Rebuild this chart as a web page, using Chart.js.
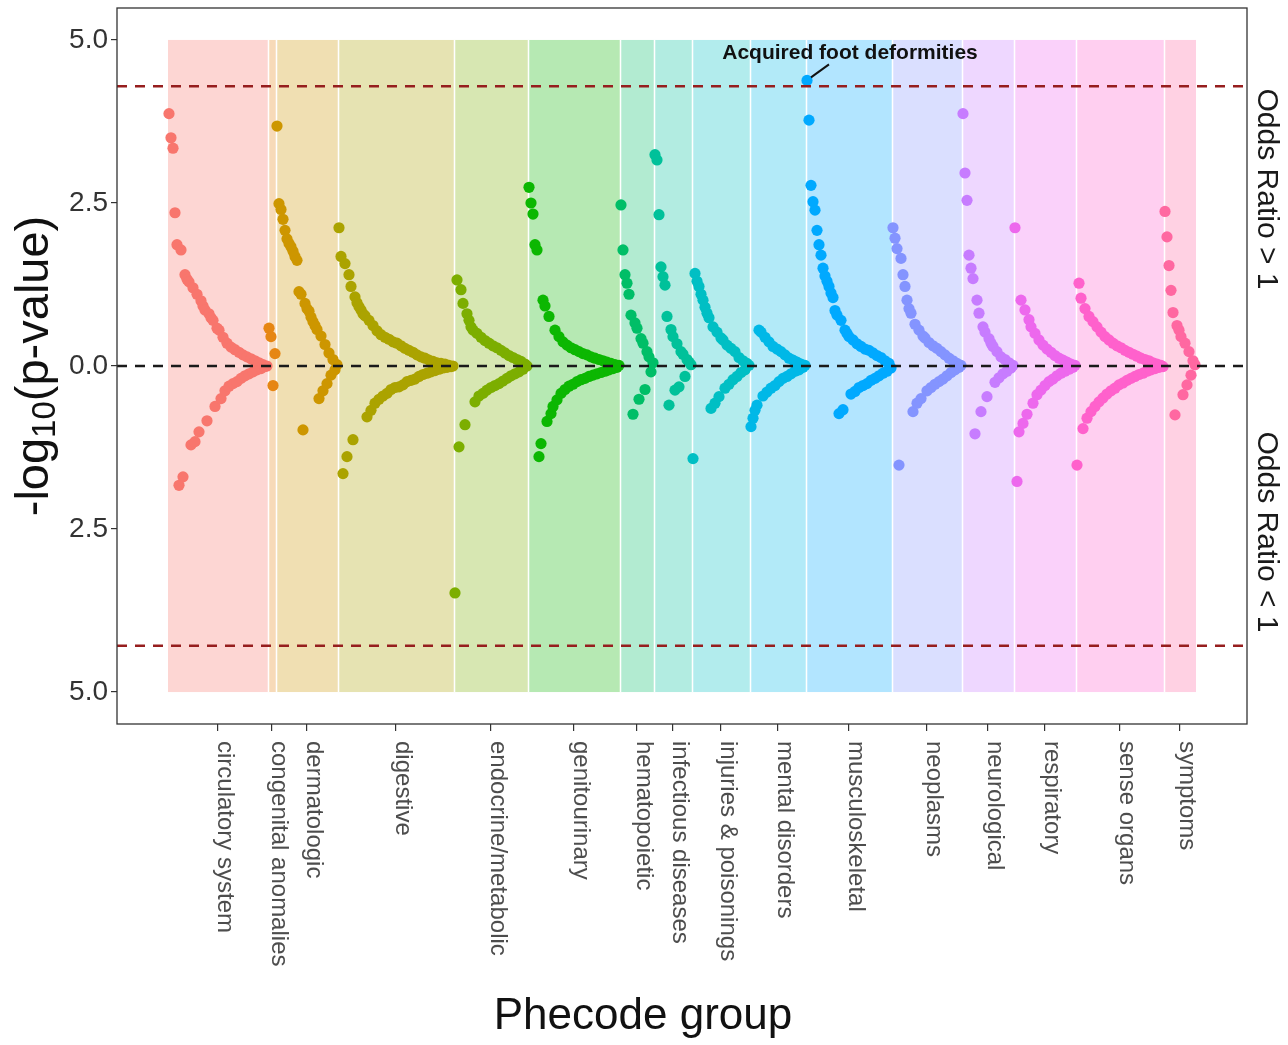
<!DOCTYPE html>
<html>
<head>
<meta charset="utf-8">
<title>PheWAS - Phecode groups</title>
<script src="https://cdn.jsdelivr.net/npm/chart.js@4.4.1/dist/chart.umd.min.js"></script>
<style>
  html, body { margin: 0; padding: 0; background: #fff; }
  #wrap { width: 1288px; height: 1045px; position: relative; }
</style>
</head>
<body>
<div id="wrap"><canvas id="chart"></canvas></div>
<script>
const FONT = "'Liberation Sans', Arial, Helvetica, sans-serif";

// Phecode groups (x-axis categories) and ggplot hue colours
const groupNames = [
  'circulatory system', 'congenital anomalies', 'dermatologic', 'digestive',
  'endocrine/metabolic', 'genitourinary', 'hematopoietic', 'infectious diseases',
  'injuries & poisonings', 'mental disorders', 'musculoskeletal', 'neoplasms',
  'neurological', 'respiratory', 'sense organs', 'symptoms',
];
const groupColors = [
  '#F8766D', '#E68613', '#CD9600', '#ABA300', '#7CAE00', '#0CB702', '#00BE67', '#00C19A',
  '#00BFC4', '#00B8E7', '#00A9FF', '#8494FF', '#C77CFF', '#ED68ED', '#FF61CC', '#FF68A1',
];

// signed -log10(p) per phecode, in plotting order (+ : OR > 1, - : OR < 1)
const circulatory = [3.87, 3.50, 3.34, 2.35, 1.86, -1.83, 1.78, -1.70, 1.40, 1.33, 1.29, -1.21, 1.20, -1.16, 1.10, -1.01, 1.00, 0.92, 0.86, -0.84, 0.80, 0.74, 0.70, -0.62, 0.58, 0.55, -0.50, 0.44, -0.38, 0.35, -0.31, 0.29, -0.27, 0.25, -0.24, 0.21, -0.19, 0.17, -0.15, 0.14, -0.12, 0.11, -0.09, 0.08, -0.06, 0.05, -0.04, 0.02, -0.01, 0.00];
const congenital = [0.58, 0.45, -0.30, 0.19];
const dermatologic = [3.68, 2.49, 2.40, 2.25, 2.08, 1.95, 1.88, 1.83, 1.76, 1.68, 1.62, 1.14, 1.10, -0.98, 0.96, 0.88, 0.84, 0.75, 0.68, 0.62, 0.56, -0.50, 0.46, -0.38, 0.33, -0.27, 0.20, -0.14, 0.10, -0.06, 0.02];
const digestive = [2.12, 1.68, -1.65, 1.57, -1.39, 1.40, 1.22, -1.13, 1.06, 0.97, 0.91, 0.86, 0.80, 0.77, -0.78, 0.70, -0.68, 0.62, -0.57, 0.54, -0.51, 0.48, -0.46, 0.44, -0.42, 0.41, -0.36, 0.37, -0.33, 0.35, -0.32, 0.31, -0.29, 0.27, -0.24, 0.24, -0.22, 0.21, -0.20, 0.17, -0.16, 0.14, -0.13, 0.12, -0.11, 0.09, -0.09, 0.07, -0.07, 0.05, -0.05, 0.04, -0.03, 0.03, -0.02, 0.01, -0.01, 0.00];
const endocrine = [-3.48, 1.32, -1.24, 1.17, 0.96, -0.90, 0.80, 0.70, 0.60, 0.55, -0.55, 0.50, -0.46, 0.44, -0.42, 0.39, -0.37, 0.35, -0.33, 0.31, -0.30, 0.28, -0.27, 0.24, -0.23, 0.20, -0.19, 0.16, -0.15, 0.13, -0.12, 0.10, -0.09, 0.07, -0.05, 0.03, 0.00];
const genitourinary = [2.74, 2.50, 2.33, 1.86, 1.78, -1.39, -1.19, 1.01, 0.92, -0.85, 0.76, -0.73, -0.62, 0.55, -0.52, 0.45, -0.42, 0.37, -0.36, 0.32, -0.31, 0.28, -0.28, 0.25, -0.24, 0.22, -0.21, 0.19, -0.19, 0.17, -0.16, 0.14, -0.14, 0.12, -0.12, 0.10, -0.10, 0.08, -0.08, 0.06, -0.06, 0.04, -0.04, 0.02, -0.02, 0.01];
const hematopoietic = [2.47, 1.78, 1.40, 1.27, 1.10, 0.78, -0.74, 0.66, 0.58, -0.51, 0.42, 0.35, -0.36, 0.22, 0.14, -0.09, 0.05];
const infectious = [3.24, 3.16, 2.32, 1.52, 1.37, 1.24, 0.76, -0.60, 0.56, 0.45, -0.37, 0.34, -0.32, 0.22, 0.18, -0.16, 0.10, 0.06, 0.02];
const injuries = [-1.42, 1.42, 1.30, 1.22, 1.10, 1.01, 0.90, 0.81, 0.74, -0.65, 0.60, -0.57, 0.52, -0.47, 0.43, 0.40, -0.34, 0.32, -0.28, 0.27, -0.21, 0.22, -0.16, 0.13, -0.10, 0.08, -0.06, 0.04, 0.01];
const mental = [-0.93, -0.80, -0.68, -0.60, 0.55, 0.52, -0.46, 0.44, -0.40, 0.37, -0.34, 0.30, -0.30, 0.26, -0.24, 0.22, -0.19, 0.17, -0.16, 0.12, -0.12, 0.09, -0.08, 0.06, -0.06, 0.03, -0.02, 0.01];
const musculoskeletal = [4.38, 3.77, 2.77, 2.52, 2.39, 2.08, 1.86, 1.70, 1.50, 1.38, 1.30, 1.22, 1.12, 1.05, 0.85, 0.78, -0.73, 0.70, -0.67, 0.55, 0.50, 0.45, -0.43, 0.40, -0.39, 0.34, -0.33, 0.30, -0.30, 0.26, -0.27, 0.24, -0.22, 0.20, -0.19, 0.16, -0.15, 0.13, -0.11, 0.08, -0.08, 0.04, -0.03];
const neoplasms = [2.12, 1.96, 1.80, -1.52, 1.65, 1.40, 1.22, 1.01, 0.88, 0.81, -0.70, 0.64, -0.57, 0.55, -0.50, 0.46, 0.43, -0.38, 0.36, -0.33, 0.31, -0.28, 0.27, -0.24, 0.22, -0.20, 0.17, -0.15, 0.12, -0.10, 0.08, -0.06, 0.04, -0.02, 0.01];
const neurological = [3.87, 2.96, 2.54, 1.70, 1.50, 1.34, -1.04, 1.01, 0.81, -0.70, 0.60, 0.52, -0.47, 0.42, 0.35, 0.30, -0.25, 0.22, -0.18, 0.14, -0.12, 0.10, -0.08, 0.05, -0.03, 0.01];
const respiratory = [2.12, -1.77, -1.01, 1.01, -0.88, 0.86, -0.74, 0.71, 0.60, -0.57, 0.50, -0.44, 0.40, -0.37, 0.32, -0.30, 0.26, -0.24, 0.21, -0.20, 0.16, -0.15, 0.12, -0.11, 0.09, -0.08, 0.06, -0.05, 0.03, -0.02, 0.01];
const senseOrgans = [-1.52, 1.27, 1.04, -0.96, 0.88, -0.80, 0.76, -0.70, 0.68, -0.62, 0.60, -0.55, 0.52, -0.49, 0.45, -0.43, 0.40, -0.38, 0.35, -0.34, 0.31, -0.29, 0.28, -0.26, 0.24, -0.22, 0.21, -0.19, 0.18, -0.16, 0.15, -0.13, 0.12, -0.11, 0.10, -0.08, 0.08, -0.06, 0.05, -0.04, 0.03, -0.02, 0.01, -0.01];
const symptoms = [2.37, 1.98, 1.54, 1.16, 0.82, -0.75, 0.62, 0.55, 0.45, -0.44, 0.35, -0.29, 0.22, -0.14, 0.08, 0.02];

const groupValues = [
  circulatory, congenital, dermatologic, digestive, endocrine, genitourinary, hematopoietic, infectious,
  injuries, mental, musculoskeletal, neoplasms, neurological, respiratory, senseOrgans, symptoms,
];

const yTickValues = [-5, -2.5, 0, 2.5, 5];
const significanceLine = 4.29; // Bonferroni threshold
const bandLimit = 5;

// highlighted phecode
const annotatedGroup = 10;
const annotatedRank = 0;
const annotationText = 'Acquired foot deformities';

// axis ranges
const xAxisMin = -26;
const xAxisMax = 539;
const yAxisMax = 5.49;

function hexToRgba(hex, a) {
  const n = parseInt(hex.slice(1), 16);
  return `rgba(${(n >> 16) & 255}, ${(n >> 8) & 255}, ${n & 255}, ${a})`;
}

// phecodes are laid out one after another; each group gets a shaded band
let position = 0;
const bands = groupValues.map((values, g) => {
  const points = values.map((v, i) => ({ x: position + i, y: v }));
  const band = { start: position - 0.5, end: position + values.length - 0.5, color: groupColors[g], points };
  position += values.length;
  return band;
});

const groupDatasets = bands.map((b, g) => ({
  type: 'scatter',
  label: groupNames[g],
  data: b.points,
  backgroundColor: groupColors[g],
  borderWidth: 0,
  pointRadius: 5.6,
  pointHoverRadius: 5.6,
  order: 2,
}));

const referenceLines = [
  { y: significanceLine, color: '#961e1e' },
  { y: -significanceLine, color: '#961e1e' },
  { y: 0, color: '#1a1a1a' },
].map((l) => ({
  type: 'line',
  data: [{ x: xAxisMin, y: l.y }, { x: xAxisMax, y: l.y }],
  borderColor: l.color,
  borderWidth: 2.4,
  borderDash: [10, 8],
  pointRadius: 0,
  showLine: true,
  order: 1,
}));

// фон групп
const bandsPlugin = {
  id: 'bands',
  beforeDatasetsDraw(chart) {
    const { ctx, scales: { x, y } } = chart;
    const top = y.getPixelForValue(bandLimit);
    const bottom = y.getPixelForValue(-bandLimit);
    ctx.save();
    bands.forEach((b) => {
      const l = x.getPixelForValue(b.start);
      const r = x.getPixelForValue(b.end);
      ctx.fillStyle = hexToRgba(b.color, 0.3);
      ctx.fillRect(l, top, r - l, bottom - top);
    });
    ctx.strokeStyle = '#ffffff';
    ctx.lineWidth = 1.5;
    bands.slice(1).forEach((b) => {
      const l = Math.round(x.getPixelForValue(b.start)) + 0.5;
      ctx.beginPath();
      ctx.moveTo(l, top);
      ctx.lineTo(l, bottom);
      ctx.stroke();
    });
    ctx.restore();
  },
};

// рамка, подписи и аннотация
const labelsPlugin = {
  id: 'labels',
  afterDraw(chart) {
    const { ctx, chartArea: area, scales: { x } } = chart;
    ctx.save();

    // panel border
    ctx.strokeStyle = '#333';
    ctx.lineWidth = 1.3;
    ctx.strokeRect(area.left, area.top, area.right - area.left, area.bottom - area.top);

    // group labels, rotated clockwise
    ctx.fillStyle = '#4d4d4d';
    ctx.font = `24px ${FONT}`;
    ctx.textAlign = 'left';
    ctx.textBaseline = 'middle';
    bands.forEach((b, g) => {
      const px = x.getPixelForValue((b.start + b.end) / 2);
      ctx.save();
      ctx.translate(px + 7, area.bottom + 17);
      ctx.rotate(Math.PI / 2);
      ctx.fillText(groupNames[g], 0, 0);
      ctx.restore();
    });

    // x title
    ctx.fillStyle = '#111';
    ctx.font = `44px ${FONT}`;
    ctx.textAlign = 'center';
    ctx.textBaseline = 'alphabetic';
    ctx.fillText('Phecode group', 643, 1029);

    // y title with subscript
    const mainFont = `47px ${FONT}`;
    const subFont = `33px ${FONT}`;
    ctx.font = mainFont;
    const w1 = ctx.measureText('-log').width;
    const w3 = ctx.measureText('(p-value)').width;
    ctx.font = subFont;
    const w2 = ctx.measureText('10').width;
    const total = w1 + w2 + w3;
    ctx.save();
    ctx.translate(35, (area.top + area.bottom) / 2);
    ctx.rotate(-Math.PI / 2);
    ctx.textAlign = 'left';
    ctx.textBaseline = 'middle';
    let tx = -total / 2;
    ctx.font = mainFont;
    ctx.fillText('-log', tx, 0);
    tx += w1;
    ctx.font = subFont;
    ctx.fillText('10', tx, 11);
    tx += w2;
    ctx.font = mainFont;
    ctx.fillText('(p-value)', tx, 0);
    ctx.restore();

    // odds ratio side labels
    ctx.font = `30px ${FONT}`;
    ctx.fillStyle = '#1a1a1a';
    ctx.textAlign = 'center';
    ctx.textBaseline = 'middle';
    [['Odds Ratio > 1', 189], ['Odds Ratio < 1', 532]].forEach(([t, cy]) => {
      ctx.save();
      ctx.translate(1266, cy);
      ctx.rotate(Math.PI / 2);
      ctx.fillText(t, 0, 0);
      ctx.restore();
    });

    // annotation for the top hit
    const pt = chart.getDatasetMeta(annotatedGroup + referenceLines.length).data[annotatedRank];
    if (pt) {
      ctx.strokeStyle = '#111';
      ctx.lineWidth = 2;
      ctx.beginPath();
      ctx.moveTo(pt.x + 22, pt.y - 16);
      ctx.lineTo(pt.x + 4, pt.y - 3);
      ctx.stroke();
      ctx.font = `bold 21px ${FONT}`;
      ctx.fillStyle = '#111';
      ctx.textAlign = 'center';
      ctx.textBaseline = 'middle';
      ctx.fillText(annotationText, pt.x + 43, pt.y - 27);
    }
    ctx.restore();
  },
};

const ctx = document.getElementById('chart').getContext('2d');
new Chart(ctx, {
  type: 'scatter',
  data: { datasets: [...referenceLines, ...groupDatasets] },
  options: {
    animation: false,
    responsive: true,
    maintainAspectRatio: false,
    events: [],
    layout: { padding: { top: 8, right: 41, bottom: 0, left: 0 } },
    plugins: {
      legend: { display: false },
      tooltip: { enabled: false },
    },
    scales: {
      x: {
        type: 'linear',
        min: xAxisMin,
        max: xAxisMax,
        afterBuildTicks: (scale) => {
          scale.ticks = bands.map((b) => ({ value: (b.start + b.end) / 2 }));
        },
        afterFit: (scale) => {
          scale.height = 321;
          scale.paddingLeft = 0;
          scale.paddingRight = 0;
        },
        ticks: { display: false, autoSkip: false },
        grid: { drawOnChartArea: false, drawTicks: true, tickLength: 7, color: '#333', lineWidth: 1.2 },
        border: { display: false },
      },
      y: {
        min: -yAxisMax,
        max: yAxisMax,
        afterBuildTicks: (scale) => {
          scale.ticks = yTickValues.map((v) => ({ value: v }));
        },
        afterFit: (scale) => {
          scale.width = 117;
          // ticks sit well inside the axis, no extra room needed
          scale.paddingTop = 0;
          scale.paddingBottom = 0;
        },
        ticks: {
          callback: (v) => Math.abs(v).toFixed(1),
          font: { family: FONT, size: 28 },
          color: '#333',
          padding: 3,
        },
        grid: { drawOnChartArea: false, drawTicks: true, tickLength: 6, color: '#333', lineWidth: 1.2 },
        border: { display: false },
      },
    },
  },
  plugins: [bandsPlugin, labelsPlugin],
});
</script>
</body>
</html>
